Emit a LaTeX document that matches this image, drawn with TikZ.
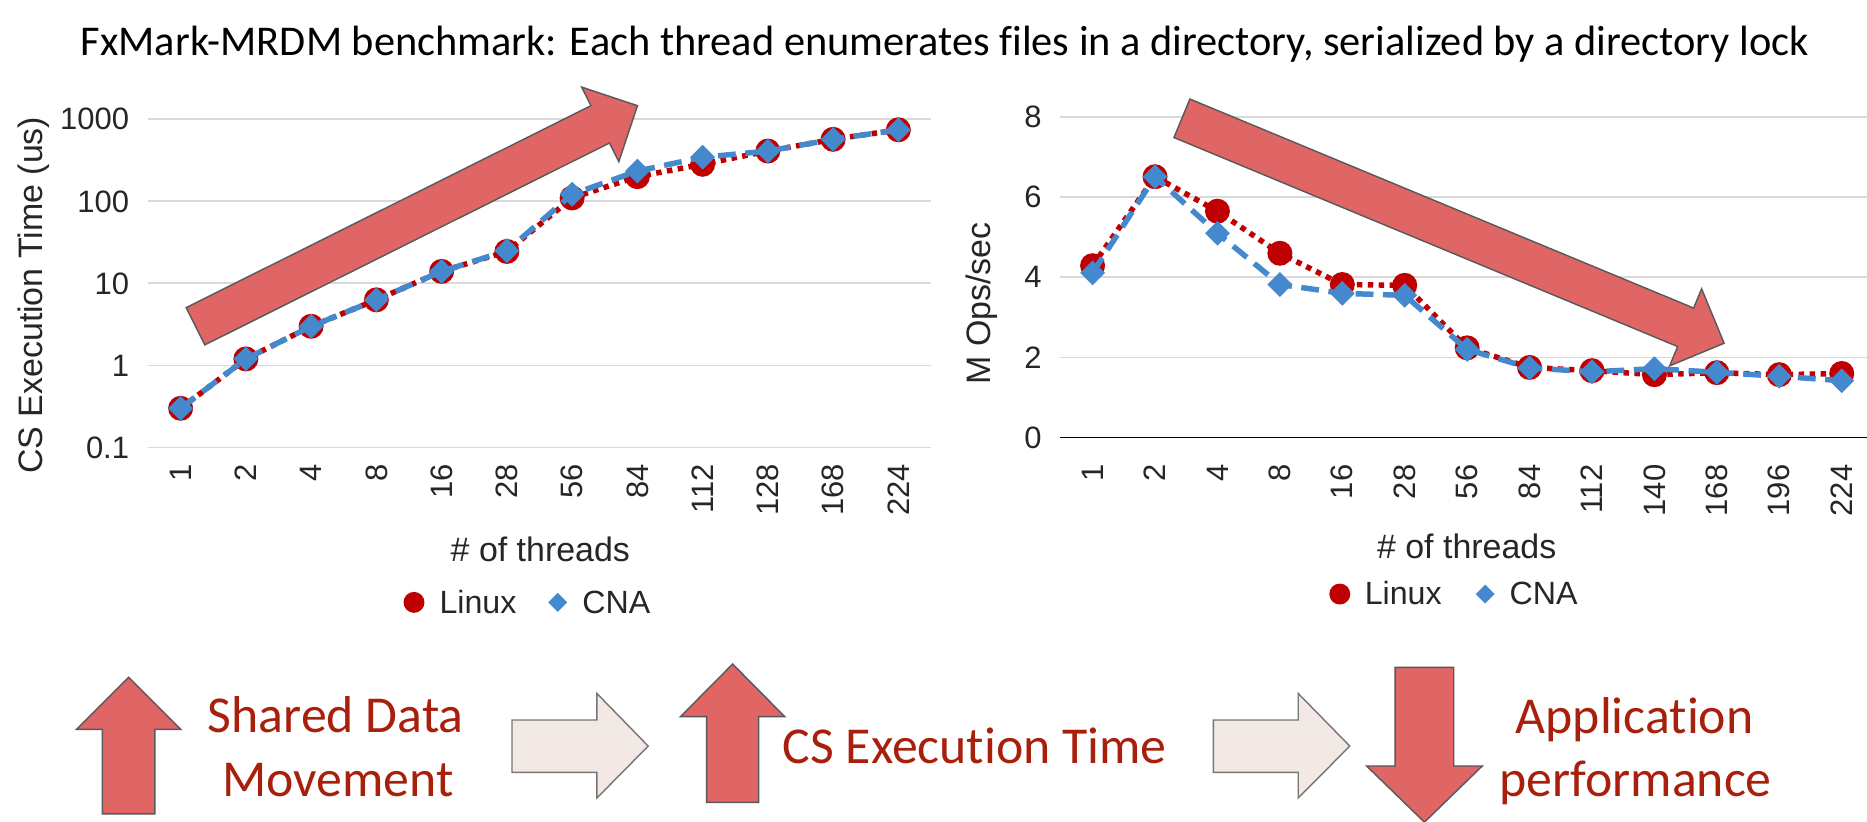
\documentclass[tikz,border=0pt]{standalone}
\usepackage{fontspec}
\setmainfont{Carlito}[Ligatures=CommonOff]
\newfontfamily\chartfont{Liberation Sans}
\usetikzlibrary{calc,shapes.geometric}

\definecolor{linuxred}{RGB}{192,0,0}
\definecolor{cnablue}{RGB}{68,136,206}
\definecolor{gridgray}{RGB}{217,217,217}
\definecolor{arrowred}{RGB}{224,102,102}
\definecolor{arrowedge}{RGB}{89,89,89}
\definecolor{paleflow}{RGB}{242,232,228}
\definecolor{flowedge}{RGB}{118,118,118}
\definecolor{labelred}{RGB}{168,32,12}
\definecolor{inkgray}{RGB}{38,38,38}

\tikzset{
  grid line/.style={gridgray, line width=1.5pt},
  tick label/.style={font=\chartfont\fontsize{26}{28}\selectfont, inner sep=0pt, text=inkgray},
  axis title/.style={font=\chartfont\fontsize{28.5}{30}\selectfont, inner sep=0pt, text=inkgray},
  legend text/.style={font=\chartfont\fontsize{27}{29}\selectfont, inner sep=0pt, anchor=base west, text=inkgray},
  linux line/.style={linuxred, line width=4.6pt, dash pattern=on 4.6pt off 4.6pt},
  cna line/.style={cnablue, line width=4.6pt, dash pattern=on 15pt off 8pt},
  linux mark/.style={circle, fill=linuxred, minimum size=21pt, inner sep=0pt},
  cna mark/.style={diamond, fill=cnablue, minimum size=21pt, inner sep=0pt},
  trend arrow/.style={fill=arrowred, draw=arrowedge, line width=1.2pt, line join=miter},
  flow arrow/.style={fill=paleflow, draw=flowedge, line width=1.2pt, line join=miter},
  caption/.style={font=\fontsize{43.5}{46}\selectfont, text=labelred, inner sep=0pt, anchor=base},
}

% block arrow from tail centre #1 to tip #2 (shaft 35, head 70 wide, 35 long)
\newcommand\blockarrow[2]{%
  \coordinate (hb) at ($(#2)!35pt!(#1)$);
  \draw[trend arrow] ($(#1)!17.5pt!90:(#2)$) -- ($(hb)!17.5pt!90:(#2)$)
    -- ($(hb)!35pt!90:(#2)$) -- (#2) -- ($(hb)!35pt!-90:(#2)$)
    -- ($(hb)!17.5pt!-90:(#2)$) -- ($(#1)!17.5pt!-90:(#2)$) -- cycle;
}

\begin{document}
\begin{tikzpicture}[x=1pt,y=-1pt]
\useasboundingbox (0,0) rectangle (1568,690);
\fill[white] (0,0) rectangle (1568,690);

% title
\node[font=\fontsize{35.6}{40}\selectfont, anchor=base, inner sep=0pt] (title) at (793.6,46.2)
  {FxMark-MRDM benchmark: Each thread enumerates files in a directory, serialized by a directory lock};

% ---------- left chart: critical section time (log scale) ----------
\foreach \lab [count=\k from 0] in {0.1,1,10,100,1000} {
  \draw[grid line] (124.3,{375.8-68.9*\k}) -- (781.9,{375.8-68.9*\k});
  \node[tick label, anchor=east] (ly-\k) at (108.6,{375.8-68.9*\k}) {\lab};
}
\foreach \lab [count=\k from 0] in {1,2,4,8,16,28,56,84,112,128,168,224}
  \node[tick label, rotate=90, anchor=east] (lx-\k) at ({151.7+54.8*\k},389.5) {\lab};

\foreach \v [count=\k from 0] in {0.3,1.2,3.0,6.3,14,24.5,110,200,283,410,570,745}
  \coordinate (ll-\k) at ({151.7+54.8*\k},{375.8-68.9*(log10(\v)+1)});
\foreach \v [count=\k from 0] in {0.3,1.2,3.0,6.3,14,25,122,234,345,410,570,745}
  \coordinate (lc-\k) at ({151.7+54.8*\k},{375.8-68.9*(log10(\v)+1)});

\draw[linux line] (ll-0) \foreach \k in {1,...,11}{ -- (ll-\k)};
\foreach \k in {0,...,11} \node[linux mark] (llm-\k) at (ll-\k) {};
\draw[cna line] (lc-0) \foreach \k in {1,...,11}{ -- (lc-\k)};
\foreach \k in {0,...,11} \node[cna mark] (lcm-\k) at (lc-\k) {};

\node[axis title, rotate=90] (lyt) at (28.1,248) {CS Execution Time (us)};
\node[axis title, anchor=base] (lxt) at (453.8,471.7) {\# of threads};

\node[circle, fill=linuxred, minimum size=17.6pt, inner sep=0pt] (llk) at (347.7,505.9) {};
\node[legend text] (llt) at (369,515.1) {Linux};
\node[diamond, fill=cnablue, minimum size=16pt, inner sep=0pt] (lck) at (468.4,505.9) {};
\node[legend text] (lct) at (489,515.1) {CNA};

\coordinate (lat) at (164.2,274);
\coordinate (lah) at (535.4,88.8);
\blockarrow{lat}{lah}

% ---------- right chart: throughput ----------
\foreach \lab [count=\k from 0] in {0,2,4,6,8} {
  \ifnum\k=0
    \draw[black, line width=1.4pt] (890.3,367.5) -- (1568,367.5);
  \else
    \draw[grid line] (890.3,{367.5-67.3*\k}) -- (1568,{367.5-67.3*\k});
  \fi
  \node[tick label, anchor=east] (ry-\k) at (875,{367.5-67.3*\k}) {\lab};
}
\foreach \lab [count=\k from 0] in {1,2,4,8,16,28,56,84,112,140,168,196,224}
  \node[tick label, rotate=90, anchor=east] (rx-\k) at ({917.6+52.43*\k},390) {\lab};

\foreach \v [count=\k from 0] in {4.29,6.51,5.65,4.6,3.82,3.8,2.24,1.75,1.67,1.57,1.62,1.57,1.6}
  \coordinate (rl-\k) at ({917.6+52.43*\k},{367.5-33.65*\v});
\foreach \v [count=\k from 0] in {4.11,6.51,5.1,3.82,3.6,3.55,2.2,1.74,1.64,1.72,1.63,1.53,1.42}
  \coordinate (rc-\k) at ({917.6+52.43*\k},{367.5-33.65*\v});

\draw[linux line] (rl-0) \foreach \k in {1,...,12}{ -- (rl-\k)};
\foreach \k in {0,...,12} \node[linux mark] (rlm-\k) at (rl-\k) {};
\draw[cna line] (rc-0) \foreach \k in {1,...,12}{ -- (rc-\k)};
\foreach \k in {0,...,12} \node[cna mark] (rcm-\k) at (rc-\k) {};

\node[axis title, rotate=90] (ryt) at (824.2,254.7) {M Ops/sec};
\node[axis title, anchor=base] (rxt) at (1231.8,469.1) {\# of threads};

\node[circle, fill=linuxred, minimum size=17.6pt, inner sep=0pt] (rlk) at (1125.2,498.9) {};
\node[legend text] (rlt) at (1146,508.1) {Linux};
\node[diamond, fill=cnablue, minimum size=16pt, inner sep=0pt] (rck) at (1247.3,498.9) {};
\node[legend text] (rct) at (1267.7,508.1) {CNA};

\coordinate (rat) at (992.65,99.35);
\coordinate (rah) at (1448,288.3);
\blockarrow{rat}{rah}

% ---------- bottom: cause and effect chain ----------
\draw[trend arrow] (86,683.6) -- (86,612.5) -- (64.3,612.5) -- (108,568.8)
  -- (151.7,612.5) -- (130,612.5) -- (130,683.6) -- cycle;
\node[caption] (c1a) at (282,615.3) {Shared Data};
\node[caption] (c1b) at (284,669.1) {Movement};

\draw[flow arrow] (430,604.7) -- (501.3,604.7) -- (501.3,582.4) -- (544.4,626.6)
  -- (501.3,670.2) -- (501.3,648.6) -- (430,648.6) -- cycle;

\draw[trend arrow] (593.5,673.8) -- (593.5,601.9) -- (571.5,601.9) -- (615.3,557.7)
  -- (659.1,601.9) -- (637.1,601.9) -- (637.1,673.8) -- cycle;
\node[caption] (c2) at (818.6,641.1) {CS Execution Time};

\draw[flow arrow] (1019.1,604.7) -- (1090.3,604.7) -- (1090.3,582.4) -- (1133.6,626.6)
  -- (1090.3,670.2) -- (1090.3,648.6) -- (1019.1,648.6) -- cycle;

\draw[trend arrow] (1171.7,560.5) -- (1220.9,560.5) -- (1220.9,643.3) -- (1244.9,643.3)
  -- (1196.3,690.5) -- (1147.7,643.3) -- (1171.7,643.3) -- cycle;
\node[caption] (c3a) at (1372.8,615.9) {Application};
\node[caption] (c3b) at (1373.6,669.1) {performance};
\end{tikzpicture}
\end{document}
